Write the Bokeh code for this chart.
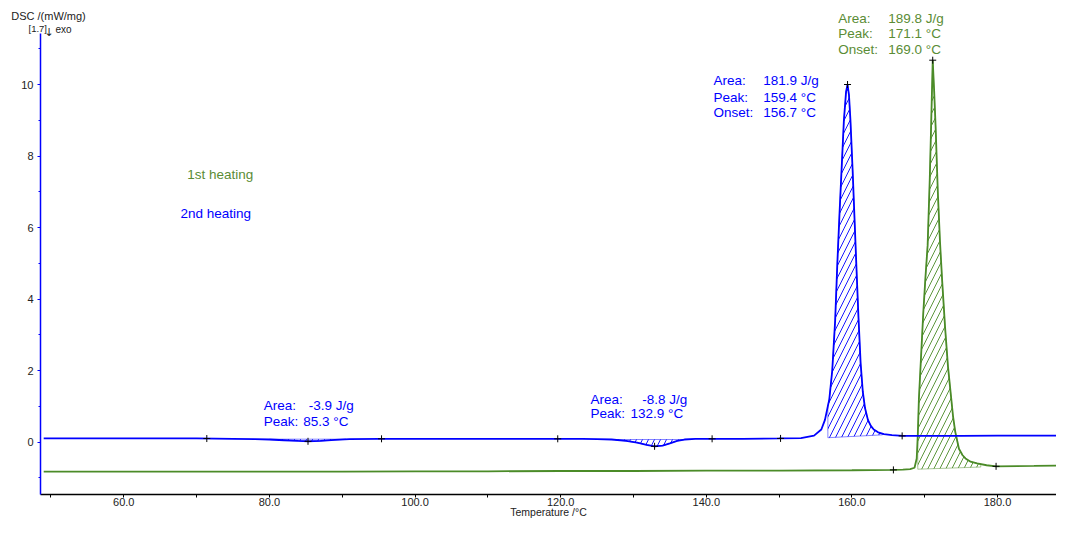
import numpy as np
from bokeh.plotting import figure
from bokeh.models import Label, FixedTicker, NumeralTickFormatter, Range1d
from bokeh.embed import file_html
from bokeh.resources import INLINE

# ---------------- data ----------------
# 2nd heating (blue)
t2 = [49.0, 55, 60, 65, 70, 75, 78, 80, 82, 84, 85.3, 87, 89, 91, 95, 100, 105, 110, 115, 120,
      123, 125, 127, 129, 130.5, 131.8, 132.9, 134.0, 135.0, 136.0, 137.0, 138.5, 140.8, 145, 150,
      153, 154.8, 155.8, 156.3, 156.9, 157.3, 157.7, 158.0, 158.3, 158.6, 158.9, 159.2, 159.4,
      159.6, 159.8, 160.1, 160.35, 160.6, 160.9, 161.2, 161.5, 161.8, 162.2, 162.6, 163.0, 163.6,
      164.4, 165.5, 167, 170, 175, 180, 185, 190]
dsc2 = [0.10, 0.10, 0.10, 0.10, 0.10, 0.09, 0.08, 0.07, 0.05, 0.03, 0.02, 0.03, 0.06, 0.08, 0.09,
        0.09, 0.09, 0.09, 0.09, 0.09,
        0.09, 0.08, 0.07, 0.03, -0.02, -0.08, -0.12, -0.10, -0.04, 0.03, 0.07, 0.09, 0.09, 0.09, 0.10,
        0.11, 0.18, 0.35, 0.62, 1.2, 2.0, 3.4, 5.0, 6.4, 7.7, 9.0, 9.8, 10.0,
        9.7, 9.0, 7.6, 6.3, 5.0, 3.5, 2.2, 1.4, 0.95, 0.62, 0.45, 0.35, 0.27,
        0.22, 0.19, 0.17, 0.17, 0.17, 0.18, 0.18, 0.18]

# 1st heating (green)
t1 = [49.0, 60, 70, 80, 90, 100, 110, 120, 130, 140, 150, 160, 165.7, 167.0, 168.0, 168.6, 168.9,
      169.05, 169.2, 169.5, 169.8, 170.1, 170.4, 170.7, 170.9, 171.1, 171.3, 171.5, 171.8, 172.1,
      172.4, 172.8, 173.2, 173.65, 173.9, 174.2, 174.7, 175.2, 175.6, 176.3, 177.2, 178.5, 179.8,
      185, 190]
dsc1 = [-0.83, -0.83, -0.83, -0.83, -0.83, -0.82, -0.82, -0.81, -0.81, -0.80, -0.80, -0.79, -0.78,
        -0.77, -0.76, -0.72, -0.46,
        0.2, 1.2, 2.4, 3.6, 4.6, 5.5, 7.4, 9.0, 10.68, 9.8, 8.8, 7.0, 5.6,
        4.5, 3.2, 2.1, 1.2, 0.7, 0.28, -0.19, -0.37, -0.46, -0.55, -0.6, -0.65, -0.68,
        -0.67, -0.65]

# evaluation markers (+)
marks2_t = [71.4, 85.3, 95.4, 119.6, 132.9, 140.8, 150.2, 159.4, 166.9]
marks1_t = [165.7, 171.1, 179.8]

# integrated (hatched) regions: start, end, baseline at start, baseline at end
peaks2_start = [80.0, 127.5, 156.7]
peaks2_end = [90.5, 137.0, 164.2]
peaks2_base_start = [0.08, 0.07, 0.12]
peaks2_base_end = [0.08, 0.07, 0.20]
peaks1_start = [169.05]
peaks1_end = [177.7]
peaks1_base_start = [-0.76]
peaks1_base_end = [-0.70]

# annotation texts
ann_big2 = [("Area:", "181.9 J/g"), ("Peak:", "159.4 °C"), ("Onset:", "156.7 °C")]
ann_big1 = [("Area:", "189.8 J/g"), ("Peak:", "171.1 °C"), ("Onset:", "169.0 °C")]
ann_dip2 = [("Area:", "-8.8 J/g"), ("Peak:", "132.9 °C")]
ann_dip1 = [("Area:", "-3.9 J/g"), ("Peak:", "85.3 °C")]

x_major = [60, 80, 100, 120, 140, 160, 180]
x_minor = [50, 70, 90, 110, 130, 150, 170, 190]
y_major = [0, 2, 4, 6, 8, 10]
y_minor = [-1, 1, 3, 5, 7, 9, 11]

# ---------------- style ----------------
BLUE = "#0000ff"
GREEN_LINE = "#4b8b28"
GREEN_TXT = "#5a8c35"
DARK = "#222222"
FONT = "Liberation Sans"

Y0, Y1 = -1.468, 11.986
Y_TOP_AXIS = 11.43

p = figure(width=1056, height=520, output_backend="svg", toolbar_location=None,
           x_range=Range1d(48.56, 188.10), y_range=Range1d(Y0, Y1),
           min_border_left=40, min_border_right=0, min_border_top=13, min_border_bottom=24)
p.outline_line_color = None
p.xgrid.visible = False
p.ygrid.visible = False
p.background_fill_color = "white"

# axes
xa = p.xaxis[0]
xa.ticker = FixedTicker(ticks=x_major, minor_ticks=x_minor)
xa.formatter = NumeralTickFormatter(format="0.0")
xa.axis_line_color = "black"
xa.axis_line_width = 1.5
xa.major_tick_line_color = "black"
xa.minor_tick_line_color = "black"
xa.major_tick_in = 0
xa.major_tick_out = 3
xa.minor_tick_in = 0
xa.minor_tick_out = 3
xa.major_label_standoff = 0
xa.major_label_text_font = FONT
xa.major_label_text_font_size = "11px"
xa.major_label_text_color = DARK
xa.axis_label = "Temperature /°C"
xa.axis_label_standoff = -3
xa.axis_label_text_font = FONT
xa.axis_label_text_font_size = "10.5px"
xa.axis_label_text_font_style = "normal"
xa.axis_label_text_color = DARK

ya = p.yaxis[0]
ya.ticker = FixedTicker(ticks=y_major, minor_ticks=y_minor)
ya.bounds = (Y0, Y_TOP_AXIS)
ya.axis_line_color = BLUE
ya.axis_line_width = 1.5
ya.major_tick_line_color = BLUE
ya.minor_tick_line_color = BLUE
ya.major_tick_in = 0
ya.major_tick_out = 3
ya.minor_tick_in = 0
ya.minor_tick_out = 2
ya.major_label_standoff = 4
ya.major_label_text_font = FONT
ya.major_label_text_font_size = "11px"
ya.major_label_text_color = DARK


def hatch_region(t, v, a, b, ba, bb, color):
    t = np.asarray(t, dtype=float)
    v = np.asarray(v, dtype=float)
    inside = (t > a) & (t < b)
    xs = [a, a] + list(t[inside]) + [b, b]
    ys = [ba, float(np.interp(a, t, v))] + list(v[inside]) + [float(np.interp(b, t, v)), bb]
    p.patch(xs, ys, fill_alpha=0, hatch_pattern="/", hatch_color=color, hatch_scale=12,
            hatch_weight=1, hatch_alpha=0.9, line_color=color, line_width=0.8, line_alpha=0.6)


for a, b, ba, bb in zip(peaks2_start, peaks2_end, peaks2_base_start, peaks2_base_end):
    hatch_region(t2, dsc2, a, b, ba, bb, BLUE)
for a, b, ba, bb in zip(peaks1_start, peaks1_end, peaks1_base_start, peaks1_base_end):
    hatch_region(t1, dsc1, a, b, ba, bb, GREEN_LINE)

p.line(t1, dsc1, line_color=GREEN_LINE, line_width=1.8)
p.line(t2, dsc2, line_color=BLUE, line_width=1.8)

p.scatter(marks2_t, np.interp(marks2_t, t2, dsc2), marker="cross", size=7, line_color="black", line_width=1)
p.scatter(marks1_t, np.interp(marks1_t, t1, dsc1), marker="cross", size=7, line_color="black", line_width=1)


def make_label(x, y, text, color, size="13.5px", align="left", font=FONT):
    return Label(x=x, y=y, text=text, text_color=color, text_font=font,
                 text_font_size=size, text_baseline="middle", text_align=align)


def add_text(x, y, text, color, size="13.5px", align="left", font=FONT):
    p.add_layout(make_label(x, y, text, color, size, align, font))


def add_block(rows, x_key, x_vals, ys, color):
    for (k, val), xv, y in zip(rows, x_vals, ys):
        add_text(x_key, y, k, color)
        add_text(xv, y, val, color)


add_block(ann_big2, 140.99, [147.82] * 3, [10.11, 9.65, 9.22], BLUE)
add_block(ann_big1, 158.12, [164.99] * 3, [11.85, 11.43, 10.98], GREEN_TXT)
add_block(ann_dip2, 124.10, [131.20, 129.60], [1.19, 0.79], BLUE)
add_block(ann_dip1, 79.23, [85.41, 84.64], [1.02, 0.58], BLUE)

add_text(68.71, 7.47, "1st heating", GREEN_TXT)
add_text(67.79, 6.38, "2nd heating", BLUE)

# texts that lie outside the plotting frame go into the side panels (not clipped)
p.add_layout(make_label(44.54, 11.93, "DSC /(mW/mg)", DARK, "11px"), "above")
p.add_layout(make_label(46.91, 11.58, "[1.7]", DARK, "9.5px"), "left")
add_text(49.75, 11.45, "↓", DARK, size="11px", align="center", font="DejaVu Sans")
add_text(50.62, 11.55, "exo", DARK, size="10px")

open("out.html", "w").write(file_html(p, INLINE))
